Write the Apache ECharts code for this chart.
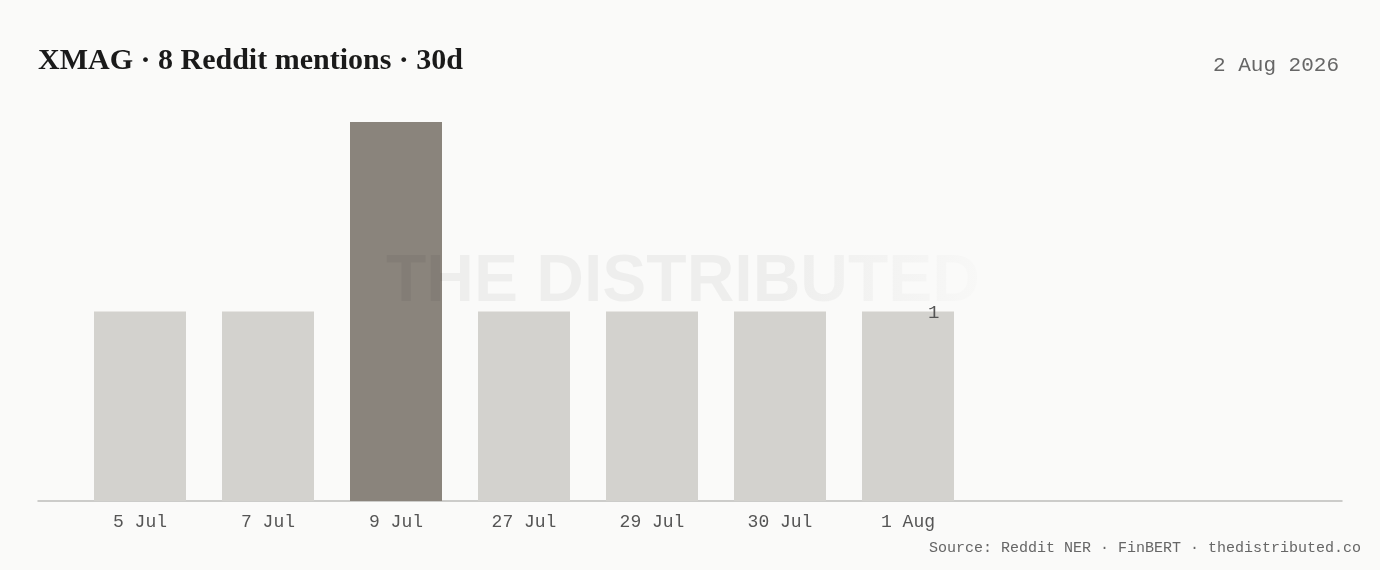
<!DOCTYPE html>
<html>
<head>
<meta charset="utf-8">
<script src="https://cdn.jsdelivr.net/npm/echarts@6/dist/echarts.min.js"></script>
<style>
html,body{margin:0;padding:0;background:#fafaf9;}
#chart{width:1380px;height:570px;}
</style>
</head>
<body>
<div id="chart"></div>
<script>
const categories = ['5 Jul', '7 Jul', '9 Jul', '27 Jul', '29 Jul', '30 Jul', '1 Aug'];
const mentions = [1, 1, 2, 1, 1, 1, 1];
const emptySlots = ['', '', ''];
const titleText = 'XMAG · 8 Reddit mentions · 30d';
const dateText = '2 Aug 2026';
const sourceText = 'Source: Reddit NER · FinBERT · thedistributed.co';
const watermarkText = 'THE DISTRIBUTED';

const mono = '"Liberation Mono", "DejaVu Sans Mono", monospace';
const bg = '#fafaf9';
const maxVal = Math.max(...mentions);
const lastIdx = mentions.length - 1;

const chart = echarts.init(document.getElementById('chart'), null, {renderer: 'canvas'});
chart.setOption({
  backgroundColor: bg,
  animation: false,
  title: [
    {
      text: titleText, left: 33, top: 41,
      textStyle: {fontFamily: '"Liberation Serif", "DejaVu Serif", serif', fontWeight: 'bold', fontSize: 30, color: '#1a1a1a'}
    },
    {
      text: dateText, right: 36, top: 50,
      textStyle: {fontFamily: mono, fontWeight: 'normal', fontSize: 21, color: '#666'}
    },
    {
      text: sourceText, right: 14, top: 536,
      textStyle: {fontFamily: mono, fontWeight: 'normal', fontSize: 15, color: '#666'}
    }
  ],
  graphic: [
    {
      type: 'text', left: 386, top: 250, z: 10, silent: true,
      style: {
        text: watermarkText,
        font: 'bold 66px "Liberation Sans", Arial, sans-serif',
        fill: 'rgba(0,0,0,0.048)'
      }
    },
    {
      type: 'rect', left: 780, top: 244, z: 11, silent: true,
      shape: {width: 215, height: 62},
      style: {
        fill: new echarts.graphic.LinearGradient(0, 0, 1, 0, [
          {offset: 0, color: 'rgba(250,250,249,0)'},
          {offset: 0.3, color: 'rgba(250,250,249,0.3)'},
          {offset: 0.7, color: 'rgba(250,250,249,0.6)'},
          {offset: 1, color: 'rgba(250,250,249,0.9)'}
        ])
      }
    }
  ],
  grid: [
    {left: 76, width: 1280, top: 122, bottom: 69},
    {left: 38, right: 38, top: 122, bottom: 69}
  ],
  xAxis: [
    {
      type: 'category', gridIndex: 0,
      data: categories.concat(emptySlots),
      axisLine: {show: false}, axisTick: {show: false},
      axisLabel: {fontFamily: mono, fontSize: 18, color: '#555', margin: 12}
    },
    {
      type: 'value', gridIndex: 1, min: 0, max: 1,
      axisLine: {show: true, lineStyle: {color: '#bdbdbb', width: 1.5}},
      axisTick: {show: false}, axisLabel: {show: false}, splitLine: {show: false}
    }
  ],
  yAxis: [
    {type: 'value', gridIndex: 0, min: 0, max: 2, show: false},
    {type: 'value', gridIndex: 1, min: 0, max: 1, show: false}
  ],
  series: [
    {
      type: 'bar', xAxisIndex: 0, yAxisIndex: 0,
      barWidth: 92,
      data: mentions,
      z: 2,
      itemStyle: {
        color: p => p.value === maxVal ? '#8a847c' : '#d3d2ce'
      },
      label: {
        show: true,
        position: ['78%', 1],
        align: 'center', verticalAlign: 'middle',
        fontFamily: mono, fontSize: 19, color: '#555',
        formatter: p => p.dataIndex === lastIdx ? String(p.value) : ''
      }
    }
  ]
});
</script>
</body>
</html>
